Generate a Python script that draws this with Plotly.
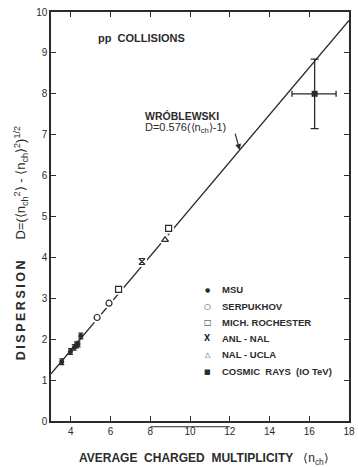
import plotly.graph_objects as go

# ---- data ---------------------------------------------------------------
msu_n = [3.54, 3.98, 4.17, 4.28, 4.36, 4.50]
msu_d = [1.45, 1.70, 1.80, 1.86, 1.88, 2.08]
msu_err = [0.07, 0.07, 0.07, 0.07, 0.07, 0.07]

serp_n = [5.32, 5.92]
serp_d = [2.53, 2.88]

mich_n = [6.40, 8.92]
mich_d = [3.22, 4.71]

anl_n = [7.58]
anl_d = [3.90]

ucla_n = [8.74]
ucla_d = [4.43]

cosmic_n = [16.27]
cosmic_d = [8.00]
cosmic_ex_minus = [1.14]
cosmic_ex_plus = [1.08]
cosmic_ey = [0.85]

# Wroblewski relation D = 0.576 (<n_ch> - 1)
WROB_SLOPE = 0.576
WROB_OFFSET = 1.0
line_n = [3.0, 18.0]
line_d = [WROB_SLOPE * (n - WROB_OFFSET) for n in line_n]
arrow_n = 12.5

x_ticks = [4, 6, 8, 10, 12, 14, 16, 18]
y_ticks = list(range(0, 11))

legend_labels = ["MSU", "SERPUKHOV", "MICH. ROCHESTER", "ANL - NAL",
                 "NAL - UCLA", "COSMIC  RAYS  (IO TeV)"]
legend_glyphs = ["●", "○", "□", "<b>X</b>", "△", "■"]
legend_glyph_sizes = [6, 8, 8, 8, 7, 7]

INK = "#2b2b2b"
FONT = "Liberation Sans"

fig = go.Figure()

# fitted line
fig.add_trace(go.Scatter(x=line_n, y=line_d, mode="lines",
                         line=dict(color=INK, width=1.3),
                         showlegend=False, hoverinfo="skip"))

# white halos so the line breaks around the open symbols
halo_n = serp_n + mich_n + anl_n + ucla_n
halo_d = serp_d + mich_d + anl_d + ucla_d
fig.add_trace(go.Scatter(x=halo_n, y=halo_d, mode="markers",
                         marker=dict(size=11, color="white"),
                         showlegend=False, hoverinfo="skip"))

fig.add_trace(go.Scatter(
    x=msu_n, y=msu_d, mode="markers", name="MSU",
    marker=dict(symbol="circle", size=5, color=INK),
    error_y=dict(type="data", array=msu_err, color=INK, thickness=1.2, width=2.5)))

fig.add_trace(go.Scatter(
    x=serp_n, y=serp_d, mode="markers", name="SERPUKHOV",
    marker=dict(symbol="circle", size=6, color="white",
                line=dict(color=INK, width=1.2))))

fig.add_trace(go.Scatter(
    x=mich_n, y=mich_d, mode="markers", name="MICH. ROCHESTER",
    marker=dict(symbol="square", size=6, color="white",
                line=dict(color=INK, width=1.2))))

fig.add_trace(go.Scatter(
    x=anl_n, y=anl_d, mode="markers", name="ANL - NAL",
    marker=dict(symbol="hourglass-open", size=6, color=INK,
                line=dict(color=INK, width=1.2))))

fig.add_trace(go.Scatter(
    x=ucla_n, y=ucla_d, mode="markers", name="NAL - UCLA",
    marker=dict(symbol="triangle-up", size=6, color="white",
                line=dict(color=INK, width=1.2))))

fig.add_trace(go.Scatter(
    x=cosmic_n, y=cosmic_d, mode="markers", name="COSMIC RAYS (IO TeV)",
    marker=dict(symbol="square", size=6, color=INK),
    error_x=dict(type="data", symmetric=False, array=cosmic_ex_plus,
                 arrayminus=cosmic_ex_minus, color=INK, thickness=1.3, width=3),
    error_y=dict(type="data", array=cosmic_ey, color=INK, thickness=1.3, width=4)))

axis_common = dict(
    showline=True, linecolor=INK, linewidth=1.5, mirror="ticks",
    ticks="inside", ticklen=5, tickwidth=1.2, tickcolor=INK,
    showgrid=False, zeroline=False, ticklabeloverflow="allow",
    tickfont=dict(family=FONT, size=10, color=INK),
)

fig.update_xaxes(range=[3, 18], tickvals=x_ticks,
                 ticktext=[str(v) for v in x_ticks], **axis_common)
fig.update_yaxes(range=[0, 10], tickvals=y_ticks,
                 ticktext=[str(v) for v in y_ticks], **axis_common)

THIN = "\u2009"
annotations = [
    dict(text="<b>pp  COLLISIONS</b>", x=0.151, y=0.936, xref="paper", yref="paper",
         xanchor="left", yanchor="middle", showarrow=False,
         font=dict(family=FONT, size=11, color=INK)),
    dict(text="<b>WRÓBLEWSKI</b>", x=0.309, y=0.746, xref="paper", yref="paper",
         xanchor="left", yanchor="middle", showarrow=False,
         font=dict(family=FONT, size=10.5, color=INK)),
    dict(text="D=0.576(⟨n<sub>ch</sub>⟩-1)", x=0.309, y=0.716, xref="paper", yref="paper",
         xanchor="left", yanchor="middle", showarrow=False,
         font=dict(family=FONT, size=11, color=INK)),
    dict(text="", x=arrow_n, y=WROB_SLOPE * (arrow_n - WROB_OFFSET), xref="x", yref="y",
         showarrow=True, arrowhead=2, arrowsize=1, arrowwidth=1.2, arrowcolor=INK,
         ax=-5, ay=-18),
    dict(text="<b>" + THIN.join("DISPERSION") + "</b>", x=-0.102, y=0.27,
         xref="paper", yref="paper",
         textangle=-90, showarrow=False, xanchor="center", yanchor="middle",
         font=dict(family=FONT, size=12.5, color=INK)),
    dict(text="D=(⟨n<sub>ch</sub><sup>2</sup>⟩ - ⟨n<sub>ch</sub>⟩<sup>2</sup>)<sup>1/2</sup>",
         x=-0.102, y=0.582, xref="paper", yref="paper",
         textangle=-90, showarrow=False, xanchor="center", yanchor="middle",
         font=dict(family=FONT, size=13, color=INK)),
    dict(text="<b>AVERAGE  CHARGED  MULTIPLICITY</b>   ⟨n<sub>ch</sub>⟩",
         x=0.513, y=-0.092, xref="paper", yref="paper",
         showarrow=False, xanchor="center", yanchor="middle",
         font=dict(family=FONT, size=12, color=INK)),
]

# key: symbol column and label column
legend_rows_px = [290, 307, 323, 339, 355, 372]
plot_top, plot_bottom, plot_left, plot_width = 12, 421.5, 51, 304
for row, label, glyph, gsize in zip(legend_rows_px, legend_labels,
                                     legend_glyphs, legend_glyph_sizes):
    yp = (plot_bottom - row) / (plot_bottom - plot_top)
    annotations.append(dict(text=glyph, x=(211 - plot_left) / plot_width, y=yp,
                            xref="paper", yref="paper", showarrow=False,
                            xanchor="center", yanchor="middle",
                            font=dict(family="DejaVu Sans", size=gsize, color=INK)))
    annotations.append(dict(text="<b>" + label + "</b>",
                            x=(223 - plot_left) / plot_width, y=yp,
                            xref="paper", yref="paper", showarrow=False,
                            xanchor="left", yanchor="middle",
                            font=dict(family=FONT, size=9.5, color=INK)))

fig.update_layout(
    width=358, height=467,
    margin=dict(l=51, r=3, t=12, b=46),
    paper_bgcolor="white", plot_bgcolor="white",
    annotations=annotations,
    showlegend=False,
    shapes=[
        # stray rule under the axis between 8 and 12
        dict(type="line", xref="x", yref="paper", x0=8, x1=12, y0=-0.014, y1=-0.014,
             line=dict(color=INK, width=1)),
    ],
)

fig.write_html("out.html")
